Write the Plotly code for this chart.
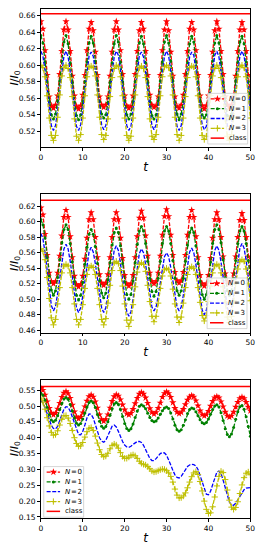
import plotly.graph_objects as go

T = [0.5 * i for i in range(101)]
TICKS_X = [0, 10, 20, 30, 40, 50]
LABELS = ["<i>N</i>\u200a=\u200a0", "<i>N</i>\u200a=\u200a1", "<i>N</i>\u200a=\u200a2",
          "<i>N</i>\u200a=\u200a3", "class"]

# ---------------- panel 1 ----------------
P1_N0 = [0.653, 0.644, 0.618, 0.588, 0.562, 0.551, 0.548, 0.552, 0.563, 0.589, 0.617, 0.643,
         0.653, 0.643, 0.617, 0.587, 0.563, 0.550, 0.547, 0.551, 0.564, 0.588, 0.618, 0.644,
         0.652, 0.642, 0.616, 0.588, 0.562, 0.552, 0.549, 0.552, 0.562, 0.587, 0.616, 0.643,
         0.653, 0.643, 0.618, 0.589, 0.563, 0.551, 0.548, 0.550, 0.563, 0.589, 0.617, 0.642,
         0.652, 0.644, 0.617, 0.588, 0.564, 0.552, 0.549, 0.551, 0.562, 0.588, 0.618, 0.643,
         0.653, 0.642, 0.616, 0.587, 0.562, 0.550, 0.548, 0.552, 0.564, 0.589, 0.617, 0.644,
         0.652, 0.643, 0.618, 0.588, 0.563, 0.551, 0.547, 0.551, 0.563, 0.588, 0.616, 0.642,
         0.653, 0.644, 0.617, 0.589, 0.562, 0.552, 0.549, 0.552, 0.562, 0.587, 0.617, 0.643,
         0.652, 0.643, 0.617, 0.588, 0.563]
P1_N1 = [0.636, 0.627, 0.604, 0.580, 0.556, 0.540, 0.535, 0.541, 0.557, 0.581, 0.605, 0.628,
         0.636, 0.626, 0.603, 0.579, 0.555, 0.539, 0.534, 0.540, 0.556, 0.580, 0.604, 0.627,
         0.635, 0.627, 0.605, 0.581, 0.556, 0.541, 0.536, 0.540, 0.555, 0.579, 0.603, 0.626,
         0.636, 0.628, 0.604, 0.580, 0.557, 0.540, 0.535, 0.541, 0.556, 0.580, 0.605, 0.627,
         0.635, 0.626, 0.603, 0.579, 0.556, 0.539, 0.535, 0.540, 0.557, 0.581, 0.604, 0.628,
         0.636, 0.627, 0.605, 0.581, 0.555, 0.541, 0.534, 0.541, 0.556, 0.579, 0.603, 0.626,
         0.635, 0.628, 0.604, 0.580, 0.556, 0.540, 0.536, 0.540, 0.555, 0.580, 0.605, 0.627,
         0.636, 0.627, 0.603, 0.579, 0.557, 0.539, 0.535, 0.541, 0.557, 0.581, 0.604, 0.628,
         0.635, 0.626, 0.604, 0.580, 0.556]
P1_N2 = [0.617, 0.611, 0.593, 0.569, 0.545, 0.527, 0.521, 0.527, 0.545, 0.569, 0.593, 0.611,
         0.617, 0.610, 0.592, 0.568, 0.544, 0.526, 0.521, 0.528, 0.546, 0.570, 0.594, 0.611,
         0.616, 0.611, 0.593, 0.570, 0.545, 0.528, 0.522, 0.527, 0.544, 0.568, 0.592, 0.610,
         0.617, 0.612, 0.594, 0.569, 0.546, 0.527, 0.521, 0.526, 0.545, 0.569, 0.593, 0.612,
         0.616, 0.610, 0.592, 0.568, 0.544, 0.527, 0.522, 0.528, 0.546, 0.570, 0.593, 0.611,
         0.617, 0.611, 0.593, 0.570, 0.545, 0.526, 0.521, 0.527, 0.545, 0.568, 0.592, 0.610,
         0.616, 0.612, 0.594, 0.569, 0.546, 0.528, 0.522, 0.526, 0.544, 0.569, 0.594, 0.612,
         0.617, 0.610, 0.592, 0.568, 0.544, 0.527, 0.521, 0.528, 0.546, 0.570, 0.593, 0.611,
         0.617, 0.611, 0.593, 0.569, 0.545]
P1_N3 = [0.600, 0.597, 0.586, 0.563, 0.536, 0.515, 0.509, 0.515, 0.537, 0.564, 0.587, 0.597,
         0.600, 0.596, 0.585, 0.562, 0.535, 0.514, 0.509, 0.516, 0.536, 0.563, 0.586, 0.598,
         0.599, 0.597, 0.587, 0.564, 0.537, 0.516, 0.510, 0.515, 0.535, 0.562, 0.585, 0.596,
         0.600, 0.598, 0.586, 0.563, 0.536, 0.515, 0.509, 0.514, 0.536, 0.564, 0.587, 0.597,
         0.599, 0.596, 0.585, 0.562, 0.535, 0.514, 0.510, 0.516, 0.537, 0.563, 0.586, 0.598,
         0.600, 0.597, 0.587, 0.564, 0.537, 0.516, 0.509, 0.515, 0.536, 0.562, 0.585, 0.597,
         0.599, 0.598, 0.586, 0.563, 0.536, 0.515, 0.510, 0.514, 0.535, 0.563, 0.587, 0.596,
         0.600, 0.596, 0.585, 0.562, 0.535, 0.514, 0.509, 0.516, 0.537, 0.564, 0.586, 0.598,
         0.600, 0.597, 0.586, 0.563, 0.536]
P1_CLASS = 0.6624
P1_YTICKS = [0.52, 0.54, 0.56, 0.58, 0.60, 0.62, 0.64, 0.66]

# ---------------- panel 2 ----------------
P2_N0 = [0.618, 0.609, 0.584, 0.557, 0.534, 0.523, 0.520,
         0.523, 0.534, 0.556, 0.582, 0.606, 0.615,
         0.606, 0.581, 0.554, 0.530, 0.519, 0.516,
         0.519, 0.530, 0.552, 0.579, 0.603, 0.612,
         0.603, 0.580, 0.554, 0.532, 0.521, 0.518,
         0.521, 0.532, 0.554, 0.580, 0.603, 0.612,
         0.603, 0.579, 0.553, 0.531, 0.520, 0.517,
         0.520, 0.531, 0.554, 0.581, 0.605, 0.614,
         0.605, 0.582, 0.556, 0.534, 0.523, 0.520,
         0.523, 0.534, 0.556, 0.583, 0.607, 0.616,
         0.607, 0.583, 0.557, 0.535, 0.524, 0.521,
         0.524, 0.535, 0.557, 0.583, 0.606, 0.615,
         0.606, 0.581, 0.554, 0.531, 0.520, 0.517,
         0.520, 0.531, 0.553, 0.579, 0.603, 0.612,
         0.603, 0.580, 0.555, 0.533, 0.523, 0.520,
         0.523, 0.533, 0.555, 0.580, 0.602, 0.611,
         0.602, 0.580, 0.555, 0.533]
P2_N1 = [0.603, 0.596, 0.579, 0.554, 0.530, 0.512, 0.505,
         0.511, 0.528, 0.551, 0.573, 0.590, 0.596,
         0.590, 0.572, 0.548, 0.523, 0.505, 0.499,
         0.505, 0.522, 0.545, 0.567, 0.584, 0.590,
         0.584, 0.568, 0.546, 0.524, 0.508, 0.502,
         0.508, 0.525, 0.547, 0.570, 0.586, 0.592,
         0.586, 0.569, 0.546, 0.523, 0.506, 0.500,
         0.506, 0.524, 0.547, 0.571, 0.588, 0.594,
         0.588, 0.572, 0.549, 0.527, 0.510, 0.504,
         0.510, 0.527, 0.549, 0.572, 0.588, 0.594,
         0.588, 0.572, 0.550, 0.527, 0.511, 0.505,
         0.511, 0.527, 0.549, 0.570, 0.586, 0.592,
         0.586, 0.569, 0.546, 0.523, 0.506, 0.500,
         0.506, 0.524, 0.548, 0.572, 0.590, 0.596,
         0.590, 0.573, 0.551, 0.528, 0.511, 0.505,
         0.511, 0.527, 0.550, 0.572, 0.588, 0.594,
         0.588, 0.572, 0.550, 0.527]
P2_N2 = [0.585, 0.578, 0.560, 0.535, 0.510, 0.492, 0.485,
         0.491, 0.507, 0.528, 0.550, 0.565, 0.571,
         0.565, 0.549, 0.527, 0.505, 0.489, 0.483,
         0.489, 0.504, 0.525, 0.546, 0.561, 0.567,
         0.561, 0.546, 0.525, 0.504, 0.489, 0.483,
         0.489, 0.505, 0.526, 0.548, 0.563, 0.569,
         0.563, 0.546, 0.524, 0.501, 0.484, 0.478,
         0.484, 0.500, 0.522, 0.543, 0.559, 0.565,
         0.560, 0.545, 0.525, 0.505, 0.490, 0.485,
         0.490, 0.504, 0.523, 0.541, 0.555, 0.560,
         0.555, 0.541, 0.523, 0.504, 0.490, 0.485,
         0.490, 0.505, 0.526, 0.546, 0.561, 0.566,
         0.560, 0.545, 0.523, 0.502, 0.486, 0.480,
         0.486, 0.502, 0.525, 0.547, 0.563, 0.569,
         0.563, 0.548, 0.526, 0.505, 0.489, 0.483,
         0.489, 0.505, 0.528, 0.550, 0.566, 0.572,
         0.566, 0.550, 0.528, 0.505]
P2_N3 = [0.565, 0.562, 0.551, 0.528, 0.501, 0.476, 0.467,
         0.474, 0.494, 0.515, 0.534, 0.543, 0.545,
         0.543, 0.534, 0.515, 0.494, 0.474, 0.467,
         0.474, 0.493, 0.514, 0.532, 0.541, 0.543,
         0.541, 0.532, 0.514, 0.493, 0.474, 0.467,
         0.475, 0.495, 0.518, 0.537, 0.547, 0.549,
         0.546, 0.537, 0.517, 0.494, 0.473, 0.465,
         0.473, 0.493, 0.516, 0.535, 0.545, 0.547,
         0.545, 0.536, 0.518, 0.497, 0.478, 0.471,
         0.478, 0.495, 0.514, 0.530, 0.538, 0.540,
         0.538, 0.530, 0.513, 0.494, 0.477, 0.470,
         0.477, 0.495, 0.515, 0.532, 0.540, 0.542,
         0.540, 0.532, 0.515, 0.496, 0.479, 0.472,
         0.479, 0.497, 0.517, 0.534, 0.543, 0.545,
         0.543, 0.534, 0.516, 0.496, 0.477, 0.470,
         0.478, 0.498, 0.520, 0.539, 0.549, 0.551,
         0.549, 0.539, 0.520, 0.498]
P2_CLASS = 0.6277
P2_YTICKS = [0.46, 0.48, 0.50, 0.52, 0.54, 0.56, 0.58, 0.60, 0.62]

# ---------------- panel 3 ----------------
P3_N0 = [0.556, 0.550, 0.535, 0.514, 0.493, 0.478, 0.472,
         0.477, 0.491, 0.509, 0.528, 0.541, 0.546,
         0.540, 0.525, 0.503, 0.482, 0.466, 0.460,
         0.465, 0.479, 0.498, 0.516, 0.530, 0.535,
         0.529, 0.514, 0.494, 0.473, 0.458, 0.452,
         0.458, 0.473, 0.494, 0.515, 0.530, 0.536,
         0.532, 0.520, 0.504, 0.488, 0.476, 0.472,
         0.477, 0.490, 0.508, 0.525, 0.538, 0.543,
         0.538, 0.526, 0.509, 0.492, 0.480, 0.475,
         0.480, 0.493, 0.510, 0.528, 0.540, 0.545,
         0.540, 0.528, 0.511, 0.493, 0.481, 0.476,
         0.480, 0.490, 0.505, 0.519, 0.529, 0.533,
         0.529, 0.517, 0.501, 0.485, 0.473, 0.469,
         0.473, 0.484, 0.500, 0.515, 0.526, 0.530,
         0.526, 0.514, 0.498, 0.481, 0.469, 0.465,
         0.469, 0.481, 0.497, 0.512, 0.524, 0.528,
         0.524, 0.512, 0.497, 0.485]
P3_N1 = [0.540, 0.534, 0.518, 0.495, 0.473, 0.456, 0.450,
         0.455, 0.469, 0.489, 0.508, 0.522, 0.527,
         0.521, 0.505, 0.484, 0.462, 0.446, 0.440,
         0.445, 0.459, 0.478, 0.497, 0.511, 0.516,
         0.510, 0.495, 0.473, 0.452, 0.436, 0.430,
         0.435, 0.450, 0.471, 0.491, 0.506, 0.511,
         0.505, 0.489, 0.467, 0.445, 0.429, 0.423,
         0.428, 0.443, 0.464, 0.484, 0.499, 0.504,
         0.500, 0.491, 0.477, 0.464, 0.454, 0.450,
         0.453, 0.462, 0.474, 0.485, 0.494, 0.497,
         0.492, 0.478, 0.459, 0.439, 0.425, 0.420,
         0.425, 0.439, 0.457, 0.476, 0.489, 0.494,
         0.491, 0.482, 0.469, 0.457, 0.447, 0.444,
         0.448, 0.459, 0.474, 0.489, 0.500, 0.504,
         0.497, 0.479, 0.454, 0.428, 0.410, 0.403,
         0.412, 0.432, 0.458, 0.482, 0.498, 0.502,
         0.490, 0.466, 0.435, 0.405]
P3_N2 = [0.518, 0.510, 0.495, 0.476, 0.456, 0.439, 0.429, 0.428, 0.436, 0.452,
         0.472, 0.490, 0.498, 0.496, 0.484, 0.465, 0.443, 0.423, 0.410, 0.409,
         0.420, 0.440, 0.462, 0.475, 0.474, 0.462, 0.442, 0.419, 0.400, 0.389,
         0.386, 0.392, 0.406, 0.423, 0.436, 0.440, 0.434, 0.420, 0.403, 0.388,
         0.377, 0.371, 0.370, 0.373, 0.379, 0.385, 0.388, 0.388, 0.385, 0.376,
         0.362, 0.347, 0.335, 0.328, 0.328, 0.334, 0.343, 0.350, 0.353, 0.352,
         0.345, 0.331, 0.314, 0.297, 0.283, 0.275, 0.273, 0.278, 0.288, 0.300,
         0.309, 0.314, 0.316, 0.315, 0.311, 0.300, 0.280, 0.256, 0.235, 0.222,
         0.220, 0.231, 0.252, 0.275, 0.291, 0.295, 0.286, 0.266, 0.240, 0.215,
         0.197, 0.188, 0.187, 0.193, 0.204, 0.216, 0.227, 0.236, 0.241, 0.243,
         0.243]
P3_N3 = [0.525, 0.512, 0.490, 0.463, 0.437, 0.417, 0.408, 0.410, 0.422, 0.440,
         0.458, 0.469, 0.470, 0.462, 0.445, 0.423, 0.400, 0.382, 0.373, 0.374,
         0.385, 0.402, 0.419, 0.430, 0.432, 0.423, 0.405, 0.383, 0.362, 0.347,
         0.340, 0.342, 0.351, 0.365, 0.376, 0.380, 0.377, 0.367, 0.353, 0.341,
         0.335, 0.335, 0.339, 0.344, 0.346, 0.343, 0.335, 0.326, 0.319, 0.316,
         0.314, 0.309, 0.302, 0.295, 0.292, 0.293, 0.296, 0.299, 0.301, 0.300,
         0.296, 0.289, 0.278, 0.260, 0.238, 0.219, 0.210, 0.211, 0.216, 0.226,
         0.242, 0.260, 0.277, 0.289, 0.293, 0.284, 0.262, 0.232, 0.200, 0.174,
         0.161, 0.163, 0.182, 0.213, 0.248, 0.278, 0.294, 0.290, 0.268, 0.235,
         0.203, 0.181, 0.174, 0.180, 0.198, 0.224, 0.251, 0.274, 0.288, 0.292,
         0.283]
P3_CLASS = 0.5616
P3_YTICKS = [0.15, 0.20, 0.25, 0.30, 0.35, 0.40, 0.45, 0.50, 0.55]

T_RANGE = [0, 50]

# page body has an 8px margin -> figure occupies 256x542 px
W, H = 256, 542

PANELS = [
    dict(series=[P1_N0, P1_N1, P1_N2, P1_N3], cls=P1_CLASS, yticks=P1_YTICKS,
         yrange=[0.501, 0.6683], ydom=[0.7417, 0.9985], leg=(202.7, 86.0)),
    dict(series=[P2_N0, P2_N1, P2_N2, P2_N3], cls=P2_CLASS, yticks=P2_YTICKS,
         yrange=[0.457, 0.6354], ydom=[0.3967, 0.6537], leg=(202.0, 272.0)),
    dict(series=[P3_N0, P3_N1, P3_N2, P3_N3], cls=P3_CLASS, yticks=P3_YTICKS,
         yrange=[0.147, 0.5835], ydom=[0.0522, 0.3094], leg=(32.0, 462.0)),
]

COLORS = ["#ff0000", "#008000", "#0000ff", "#bfbf00"]
DASH = "4px,1.6px"
LW = 1.3
MARKERS = [
    dict(symbol="star", size=5.5, color="#ff0000", line=dict(width=0)),
    dict(symbol="circle", size=3, color="#008000", line=dict(width=0)),
    None,
    dict(symbol="cross-thin", size=4.5, color="#bfbf00", line=dict(width=1, color="#bfbf00")),
]

FONT = "DejaVu Sans"
fig = go.Figure()
layout = dict(
    width=W, height=H, margin=dict(l=0, r=0, t=0, b=0),
    paper_bgcolor="white", plot_bgcolor="rgba(0,0,0,0)",
    font=dict(family=FONT, size=7.5, color="black"),
    showlegend=False,
)
annotations = []

for i, p in enumerate(PANELS):
    n = "" if i == 0 else str(i + 1)
    xa, ya = "x" + n, "y" + n
    for j, s in enumerate(p["series"]):
        kw = dict(x=T, y=s, name=LABELS[j], xaxis=xa, yaxis=ya,
                  line=dict(color=COLORS[j], width=LW, dash=DASH))
        if MARKERS[j] is not None:
            kw["mode"] = "lines+markers"
            kw["marker"] = MARKERS[j]
        else:
            kw["mode"] = "lines"
        fig.add_trace(go.Scatter(**kw))
    fig.add_trace(go.Scatter(x=T_RANGE, y=[p["cls"], p["cls"]], name=LABELS[4], mode="lines",
                             xaxis=xa, yaxis=ya, line=dict(color="#ff0000", width=1.5)))
    common = dict(showline=True, mirror=True, linecolor="black", linewidth=0.8,
                  ticks="outside", ticklen=3, tickwidth=0.8, tickcolor="black",
                  showgrid=False, zeroline=False, tickfont=dict(size=7.5, family=FONT))
    layout["xaxis" + n] = dict(common, domain=[29 / W, 247 / W], range=T_RANGE, tickvals=TICKS_X,
                               anchor=ya,
                               title=dict(text="<i>t</i>", font=dict(size=12, family=FONT), standoff=1))
    layout["yaxis" + n] = dict(common, domain=p["ydom"], range=p["yrange"], tickvals=p["yticks"],
                               tickformat=".2f", anchor=xa,
                               title=dict(text="<i>I</i>/<i>I</i><sub>0</sub>",
                                          font=dict(size=11, family=FONT), standoff=3))

# ---- hand-drawn matplotlib-style legends on a pixel overlay axis ----
LEG_W, LEG_H = 41.5, 51.0
for i, p in enumerate(PANELS):
    lx, ly = p["leg"]
    fig.add_trace(go.Scatter(x=[lx, lx + LEG_W, lx + LEG_W, lx, lx],
                             y=[ly, ly, ly + LEG_H, ly + LEG_H, ly],
                             mode="lines", fill="toself", fillcolor="rgba(255,255,255,0.85)",
                             line=dict(color="#cccccc", width=0.8),
                             xaxis="x4", yaxis="y4", hoverinfo="skip"))
    for k in range(5):
        yc = ly + 5.5 + 9.9 * k
        if k < 4:
            col, dash, w = COLORS[k], DASH, LW
        else:
            col, dash, w = "#ff0000", "solid", 1.5
        fig.add_trace(go.Scatter(x=[lx + 3, lx + 17], y=[yc, yc], mode="lines",
                                 line=dict(color=col, width=w, dash=dash),
                                 xaxis="x4", yaxis="y4", hoverinfo="skip"))
        if k < 4 and MARKERS[k] is not None:
            fig.add_trace(go.Scatter(x=[lx + 10], y=[yc], mode="markers", marker=MARKERS[k],
                                     xaxis="x4", yaxis="y4", hoverinfo="skip"))
        annotations.append(dict(x=lx + 20, y=yc, xref="x4", yref="y4", text=LABELS[k],
                                showarrow=False, xanchor="left", yanchor="middle",
                                font=dict(size=7, family=FONT, color="black")))

layout["xaxis4"] = dict(domain=[0, 1], range=[0, W], visible=False, fixedrange=True, anchor="y4")
layout["yaxis4"] = dict(domain=[0, 1], range=[H, 0], visible=False, fixedrange=True, anchor="x4")
layout["annotations"] = annotations

fig.update_layout(**layout)
fig.write_html("out.html")
